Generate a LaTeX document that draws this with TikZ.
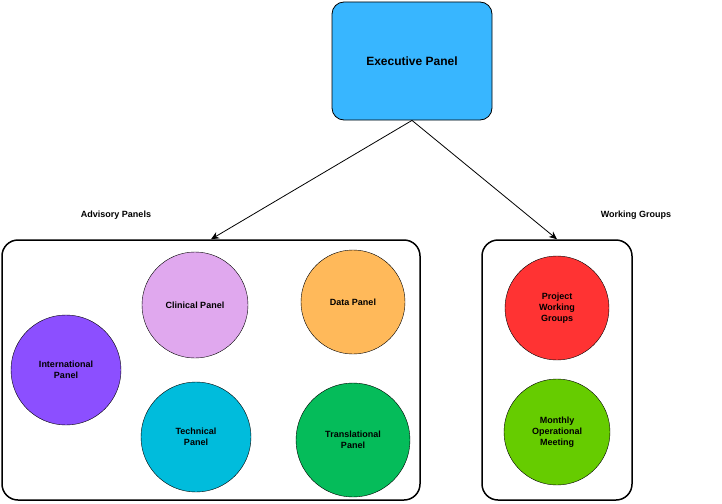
\documentclass[tikz,border=0pt]{standalone}
\usepackage{fontspec}
\setmainfont{Liberation Sans}
\usetikzlibrary{arrows.meta}
\definecolor{execblue}{HTML}{38B6FF}
\definecolor{lilac}{HTML}{E0A8EE}
\definecolor{dataorange}{HTML}{FFB95A}
\definecolor{intlpurple}{HTML}{8C4FFF}
\definecolor{techcyan}{HTML}{00BCDC}
\definecolor{transgreen}{HTML}{05BC5A}
\definecolor{projred}{HTML}{FF3333}
\definecolor{monthgreen}{HTML}{66CC00}
\tikzstyle{exec}=[rectangle,rounded corners=12pt,draw=black,thick,fill=execblue,minimum width=160pt,minimum height=118pt,font=\bfseries\large]
\tikzstyle{group}=[rectangle,rounded corners=16pt,draw=black,line width=1.5pt]
\tikzstyle{panel}=[circle,draw=black,thin,inner sep=0pt,align=center,font=\bfseries\small]
\tikzstyle{title}=[font=\bfseries\small]
\tikzstyle{post}=[-{Stealth[length=8pt,width=7pt]},thick]

\begin{document}
\begin{tikzpicture}[x=1pt,y=-1pt]
  \useasboundingbox (0,0) rectangle (722,503);
  \node[exec] (exec) at (412,61) {Executive Panel};
  \node[group,minimum width=418pt,minimum height=260pt] (advisory) at (211,370) {};
  \node[group,minimum width=150pt,minimum height=260pt] (working) at (557,370) {};
  \node[title] (advlabel) at (116,215) {Advisory Panels};
  \node[title] (wglabel) at (636,215) {Working Groups};
  \node[panel,fill=lilac,minimum size=106pt] (clinical) at (195,305) {Clinical Panel};
  \node[panel,fill=dataorange,minimum size=104pt] (data) at (353,302) {Data Panel};
  \node[panel,fill=intlpurple,minimum size=110pt] (intl) at (66,370) {International\\Panel};
  \node[panel,fill=techcyan,minimum size=110pt] (tech) at (196,437) {Technical\\Panel};
  \node[panel,fill=transgreen,minimum size=114pt] (trans) at (353,440) {Translational\\Panel};
  \node[panel,fill=projred,minimum size=104pt] (project) at (557,308) {Project\\Working\\Groups};
  \node[panel,fill=monthgreen,minimum size=106pt] (monthly) at (557,432) {Monthly\\Operational\\Meeting};
  \draw[post] (exec.south) -- (advisory.north);
  \draw[post] (exec.south) -- (working.north);
\end{tikzpicture}
\end{document}
